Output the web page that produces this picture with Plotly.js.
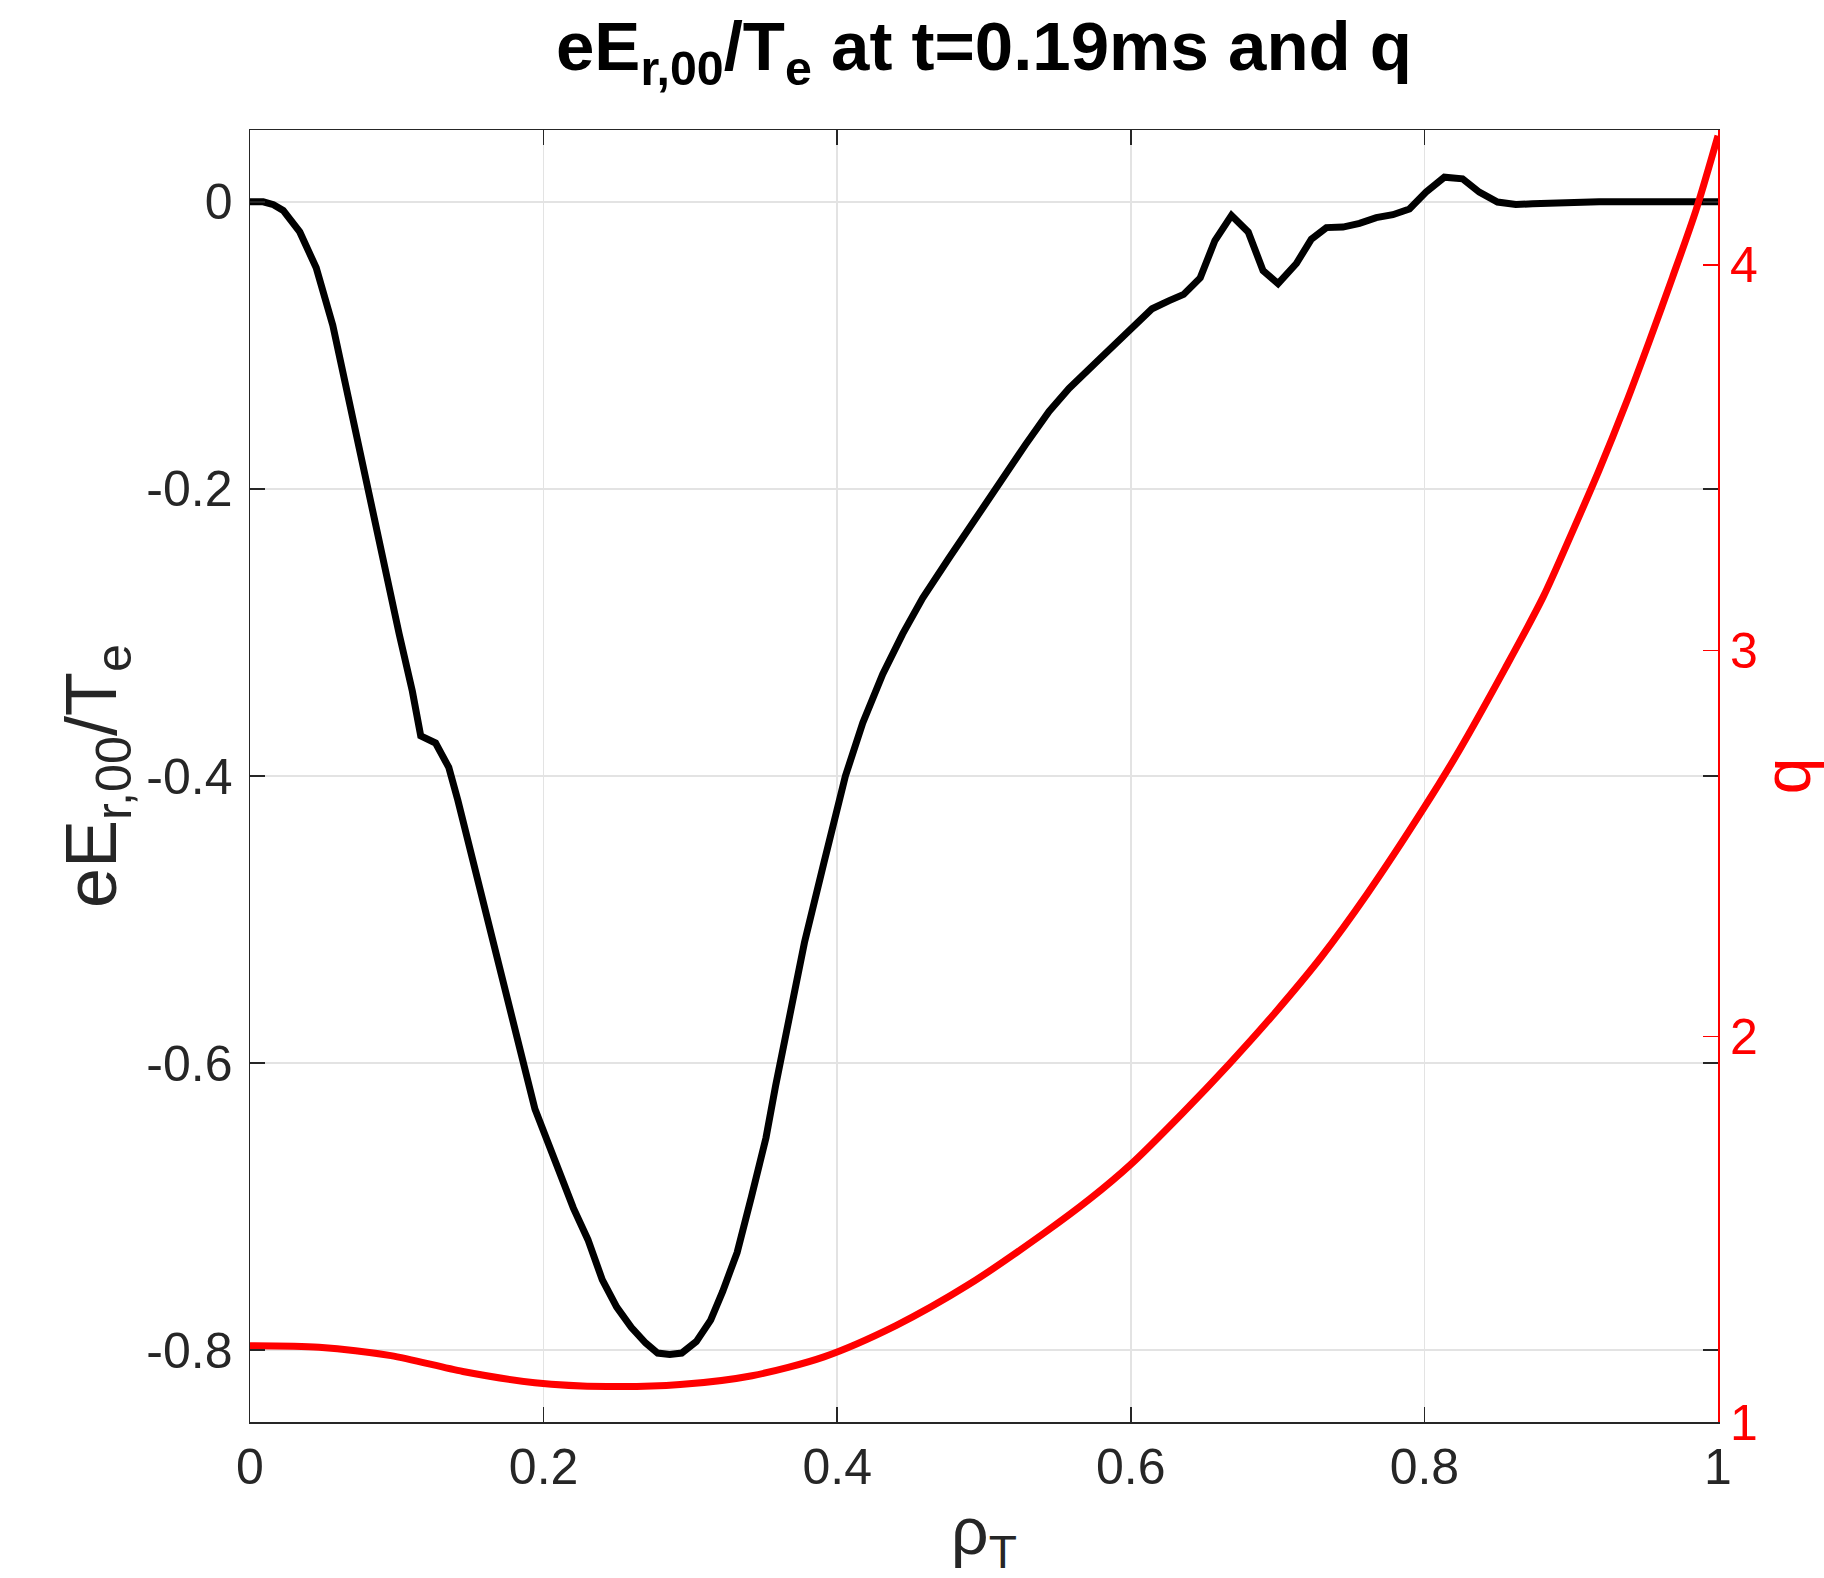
<!DOCTYPE html>
<html>
<head>
<meta charset="utf-8">
<script src="https://cdn.plot.ly/plotly-3.0.1.min.js"></script>
<style>html,body{margin:0;padding:0;background:#fff;}#chart{width:1824px;height:1578px;}</style>
</head>
<body>
<div id="chart"></div>
<script>
// eE_r,00/T_e profile (left axis)
const rhoE = [0, 0.009, 0.016, 0.0226, 0.0339, 0.0451, 0.0564, 0.0677, 0.079, 0.0903, 0.1016, 0.1106, 0.1163, 0.1264, 0.1354, 0.1416, 0.1515, 0.1613, 0.1679, 0.1777, 0.1875, 0.1941, 0.2007, 0.2105, 0.2203, 0.2302, 0.24, 0.2498, 0.2597, 0.2695, 0.2777, 0.2859, 0.2941, 0.304, 0.3138, 0.322, 0.3318, 0.3416, 0.3515, 0.358, 0.3679, 0.3777, 0.3908, 0.4056, 0.4174, 0.431, 0.4446, 0.4582, 0.4763, 0.4944, 0.5103, 0.5284, 0.5443, 0.5579, 0.5782, 0.6, 0.6145, 0.6258, 0.636, 0.6473, 0.6573, 0.6686, 0.68, 0.6901, 0.7003, 0.7128, 0.723, 0.7332, 0.7445, 0.7558, 0.7672, 0.7785, 0.7898, 0.8011, 0.8136, 0.826, 0.8374, 0.8498, 0.8623, 0.8736, 0.8963, 0.919, 1.0];
const erValues = [0, 0, -0.002, -0.006, -0.021, -0.046, -0.086, -0.140, -0.195, -0.251, -0.301, -0.341, -0.372, -0.377, -0.394, -0.417, -0.4585, -0.497, -0.525, -0.569, -0.605, -0.632, -0.649, -0.676, -0.701, -0.723, -0.751, -0.770, -0.784, -0.795, -0.802, -0.803, -0.802, -0.794, -0.779, -0.759, -0.732, -0.693, -0.652, -0.616, -0.566, -0.516, -0.461, -0.400, -0.363, -0.329, -0.301, -0.276, -0.248, -0.220, -0.1955, -0.169, -0.146, -0.130, -0.110, -0.088, -0.0745, -0.069, -0.0645, -0.053, -0.027, -0.0095, -0.021, -0.048, -0.057, -0.043, -0.026, -0.018, -0.0176, -0.015, -0.011, -0.009, -0.005, 0.0067, 0.0171, 0.016, 0.0067, -0.0002, -0.0019, -0.0014, -0.0005, 0, 0];

// safety factor q profile (right axis)
const rhoQ = [0, 0.047, 0.096, 0.145, 0.194, 0.243, 0.293, 0.342, 0.391, 0.44, 0.489, 0.541, 0.572, 0.6, 0.635, 0.667, 0.698, 0.730, 0.761, 0.8, 0.824, 0.855, 0.881, 0.901, 0.919, 0.937, 0.953, 0.969, 0.985, 1.0];
const qValues = [1.198, 1.194, 1.172, 1.131, 1.102, 1.092, 1.097, 1.120, 1.169, 1.250, 1.355, 1.490, 1.578, 1.668, 1.800, 1.928, 2.060, 2.207, 2.369, 2.594, 2.743, 2.954, 3.140, 3.310, 3.468, 3.638, 3.800, 3.968, 4.142, 4.335];

// ticks
const xTickVals = [0, 0.2, 0.4, 0.6, 0.8, 1];
const xTickText = ['0', '0.2', '0.4', '0.6', '0.8', '1'];
const yTickVals = [-0.8, -0.6, -0.4, -0.2, 0];
const yTickText = ['-0.8', '-0.6', '-0.4', '-0.2', '0'];
const y2TickVals = [1, 2, 3, 4];
const y2TickText = ['1', '2', '3', '4'];

const FONT = '"Liberation Sans", Arial, Helvetica, sans-serif';
const AX = '#262626';
const GRID = '#e3e3e3';

const traces = [
  {x: rhoE, y: erValues, type: 'scatter', mode: 'lines', line: {color: '#000000', width: 7}, yaxis: 'y', hoverinfo: 'skip'},
  {x: rhoQ, y: qValues, type: 'scatter', mode: 'lines', line: {color: '#ff0000', width: 7, shape: 'spline', smoothing: 0.8}, yaxis: 'y2', hoverinfo: 'skip'}
];

const layout = {
  width: 1824, height: 1578,
  margin: {l: 250, r: 106, t: 130, b: 156, pad: 0},
  paper_bgcolor: '#ffffff', plot_bgcolor: '#ffffff',
  showlegend: false,
  font: {family: FONT, color: AX},
  title: {
    text: '<b>eE<sub>r,00</sub>/T<sub>e</sub> at t=0.19ms and q</b>',
    font: {family: FONT, size: 69, color: '#000000'},
    x: 0.5, xref: 'paper', xanchor: 'center',
    y: 1 - 22/1578, yref: 'container', yanchor: 'top'
  },
  xaxis: {
    range: [0, 1], tickvals: xTickVals, ticktext: xTickText,
    ticks: 'inside', ticklen: 15, tickwidth: 1.5, tickcolor: AX,
    showline: true, linecolor: AX, linewidth: 1.5, mirror: 'ticks',
    showgrid: true, gridcolor: GRID, gridwidth: 1.5, zeroline: false,
    tickfont: {family: FONT, size: 50, color: AX},
    title: {text: 'ρ<sub>T</sub>', font: {family: FONT, size: 66, color: AX}, standoff: 22},
    automargin: false
  },
  yaxis: {
    range: [-0.85, 0.05], tickvals: yTickVals, ticktext: yTickText,
    ticks: 'inside', ticklen: 15, tickwidth: 1.5, tickcolor: AX,
    showline: true, linecolor: AX, linewidth: 1.5, mirror: 'ticks',
    showgrid: true, gridcolor: GRID, gridwidth: 1.5, zeroline: false,
    tickfont: {family: FONT, size: 50, color: AX}, ticklabelstandoff: 6,
    title: {text: 'eE<sub>r,00</sub>/T<sub>e</sub>', font: {family: FONT, size: 72, color: AX}, standoff: 6},
    automargin: false
  },
  yaxis2: {
    overlaying: 'y', side: 'right',
    range: [1, 4.35], tickvals: y2TickVals, ticktext: y2TickText,
    ticks: 'inside', ticklen: 15, tickwidth: 1.5, tickcolor: '#ff0000',
    showline: true, linecolor: '#ff0000', linewidth: 2,
    showgrid: false, zeroline: false,
    tickfont: {family: FONT, size: 50, color: '#ff0000'},
    title: {text: 'q', font: {family: FONT, size: 66, color: '#ff0000'}, standoff: 16},
    automargin: false
  }
};

Plotly.newPlot('chart', traces, layout, {displayModeBar: false, staticPlot: true});
</script>
</body>
</html>
